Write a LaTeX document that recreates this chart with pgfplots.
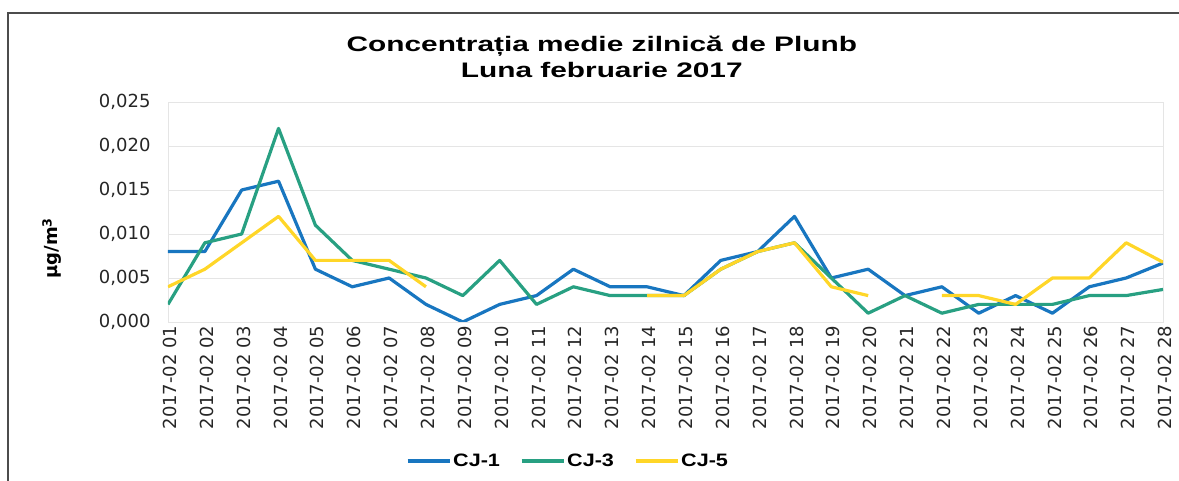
\documentclass[border=0pt]{standalone}
\usepackage{pgfplots}
\usepackage{pgfplotstable}
\usepackage{graphicx}
\usepackage{fontspec}
\pgfplotsset{compat=1.18}
\setmainfont{DejaVu Sans}
\newfontfamily\lib{Liberation Sans}
\definecolor{cjone}{RGB}{24,118,192}
\definecolor{cjthree}{RGB}{40,160,130}
\definecolor{cjfive}{RGB}{255,214,40}
\pgfplotstableread{
x cj1 cj3 cj5
1 0.008 0.002 0.004
2 0.008 0.009 0.006
3 0.015 0.010 0.009
4 0.016 0.022 0.012
5 0.006 0.011 0.007
6 0.004 0.007 0.007
7 0.005 0.006 0.007
8 0.002 0.005 0.004
9 0.000 0.003 nan
10 0.002 0.007 nan
11 0.003 0.002 nan
12 0.006 0.004 nan
13 0.004 0.003 nan
14 0.004 0.003 0.003
15 0.003 0.003 0.003
16 0.007 0.006 0.006
17 0.008 0.008 0.008
18 0.012 0.009 0.009
19 0.005 0.005 0.004
20 0.006 0.001 0.003
21 0.003 0.003 nan
22 0.004 0.001 0.003
23 0.001 0.002 0.003
24 0.003 0.002 0.002
25 0.001 0.002 0.005
26 0.004 0.003 0.005
27 0.005 0.003 0.009
28 0.0067 0.0037 0.0068
}\datatable
\begin{document}
\begin{tikzpicture}
\useasboundingbox (-168pt,-159pt) rectangle (1011pt,322pt);
\begin{axis}[
  scale only axis, width=995pt, height=220pt,
  xmin=1, xmax=28, ymin=0, ymax=0.025,
  xtick={1,...,28},
  xticklabels={2017-02 01,2017-02 02,2017-02 03,2017-02 04,2017-02 05,2017-02 06,2017-02 07,2017-02 08,2017-02 09,2017-02 10,2017-02 11,2017-02 12,2017-02 13,2017-02 14,2017-02 15,2017-02 16,2017-02 17,2017-02 18,2017-02 19,2017-02 20,2017-02 21,2017-02 22,2017-02 23,2017-02 24,2017-02 25,2017-02 26,2017-02 27,2017-02 28},
  ytick={0,0.005,0.01,0.015,0.02,0.025},
  scaled y ticks=false,
  /pgf/number format/fixed,
  /pgf/number format/fixed zerofill,
  /pgf/number format/precision=3,
  /pgf/number format/use comma,
  /pgf/number format/assume math mode=true,
  yticklabel style={font=\fontsize{18}{20}\selectfont, text=black!85, xshift=-14pt},
  xticklabel style={font=\fontsize{18}{20}\selectfont, text=black!85, rotate=90, anchor=east, yshift=-2pt},
  major tick length=0pt,
  ymajorgrids, grid style={gray!20, line width=0.9pt},
  axis line style={gray!20, line width=0.9pt},
  unbounded coords=jump,
  ylabel={\fontsize{18}{20}\selectfont\bfseries µg/m\textsuperscript{3}},
  ylabel style={at={(axis description cs:-0.1166,0.335)}, anchor=center},
  title={\scalebox{1.42}[1]{Concentrația medie zilnică de Plunb}\\\scalebox{1.42}[1]{Luna februarie 2017}},
  title style={at={(axis description cs:0.436,1.18)}, anchor=center, align=center,
    font=\lib\bfseries\fontsize{21}{26}\selectfont},
  legend columns=-1,
  legend style={at={(axis description cs:0.402,-0.632)}, anchor=center, draw=none, fill=none,
    font=\lib\bfseries\fontsize{18}{20}\selectfont, /tikz/every even column/.append style={column sep=18pt}},
  legend image code/.code={\draw[#1] (0pt,0pt) -- (42pt,0pt);},
  every axis plot/.append style={line width=3.2pt, line join=round},
]
\addplot[cjone, no markers] table[x=x, y=cj1] {\datatable};
\addlegendentry{\scalebox{1.2}[1]{CJ-1}}
\addplot[cjthree, no markers] table[x=x, y=cj3] {\datatable};
\addlegendentry{\scalebox{1.2}[1]{CJ-3}}
\addplot[cjfive, no markers] table[x=x, y=cj5] {\datatable};
\addlegendentry{\scalebox{1.2}[1]{CJ-5}}
\end{axis}
\draw[black!70, line width=1.5pt] (-160pt,-159pt) -- (-160pt,309pt) -- (1011pt,309pt);
\end{tikzpicture}
\end{document}
